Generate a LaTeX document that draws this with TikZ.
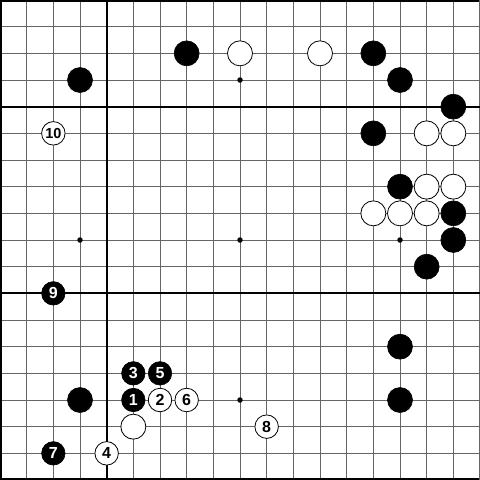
\documentclass[tikz,border=0pt]{standalone}
\usepackage{fontspec}
\setmainfont{Liberation Sans}
\begin{document}
\begin{tikzpicture}[x=1pt,y=-1pt,
  gridline/.style={draw=black!60,line width=1pt},
  heavyline/.style={draw=black,line width=2pt},
  bstone/.style={circle,fill=black,draw=black,line width=0.6pt,minimum size=25pt,inner sep=0pt},
  wstone/.style={circle,fill=white,draw=black,line width=0.8pt,minimum size=25pt,inner sep=0pt},
  bnum/.style={circle,fill=black,draw=black,line width=0.6pt,minimum size=23.5pt,inner sep=0pt,text=white,font=\fontsize{16}{16}\selectfont\bfseries},
  wnum/.style={circle,fill=white,draw=black,line width=0.8pt,minimum size=23.5pt,inner sep=0pt,text=black,font=\fontsize{16}{16}\selectfont\bfseries},
  hoshi/.style={circle,fill=black,minimum size=5.5pt,inner sep=0pt}]
\def\g{26.6667}
\useasboundingbox[fill=white] (0,0) rectangle (480,480);
% grid
\foreach \i in {1,...,17}{
  \draw[gridline] (\i*\g,0) -- (\i*\g,480);
  \draw[gridline] (0,\i*\g) -- (480,\i*\g);
}
\draw[heavyline] (1,1) -- (1,479);
\draw[heavyline] (0,1) -- (480,1);
\draw[heavyline] (0,479) -- (480,479);
\draw[gridline] (479.5,0) -- (479.5,480);
\draw[heavyline] (4*\g,0) -- (4*\g,480);
\draw[heavyline] (0,4*\g) -- (480,4*\g);
\draw[heavyline] (0,11*\g) -- (480,11*\g);
% hoshi
\node[hoshi] (h1) at (9*\g,3*\g) {};
\node[hoshi] (h2) at (3*\g,9*\g) {};
\node[hoshi] (h3) at (9*\g,9*\g) {};
\node[hoshi] (h4) at (15*\g,9*\g) {};
\node[hoshi] (h5) at (9*\g,15*\g) {};
% plain black stones
\foreach \c/\r [count=\k] in {7/2,14/2,3/3,15/3,17/4,14/5,15/7,17/8,17/9,16/10,15/13,3/15,15/15}
  \node[bstone] (b\k) at (\c*\g,\r*\g) {};
% plain white stones
\foreach \c/\r [count=\k] in {9/2,12/2,16/5,17/5,16/7,17/7,14/8,15/8,16/8,5/16}
  \node[wstone] (w\k) at (\c*\g,\r*\g) {};
% numbered stones
\node[bnum] (m1) at (5*\g,15*\g) {1};
\node[wnum] (m2) at (6*\g,15*\g) {2};
\node[bnum] (m3) at (5*\g,14*\g) {3};
\node[wnum] (m4) at (4*\g,17*\g) {4};
\node[bnum] (m5) at (6*\g,14*\g) {5};
\node[wnum] (m6) at (7*\g,15*\g) {6};
\node[bnum] (m7) at (2*\g,17*\g) {7};
\node[wnum] (m8) at (10*\g,16*\g) {8};
\node[bnum] (m9) at (2*\g,11*\g) {9};
\node[wnum,font=\fontsize{14.5}{14.5}\selectfont\bfseries] (m10) at (2*\g,5*\g) {10};
\end{tikzpicture}
\end{document}
